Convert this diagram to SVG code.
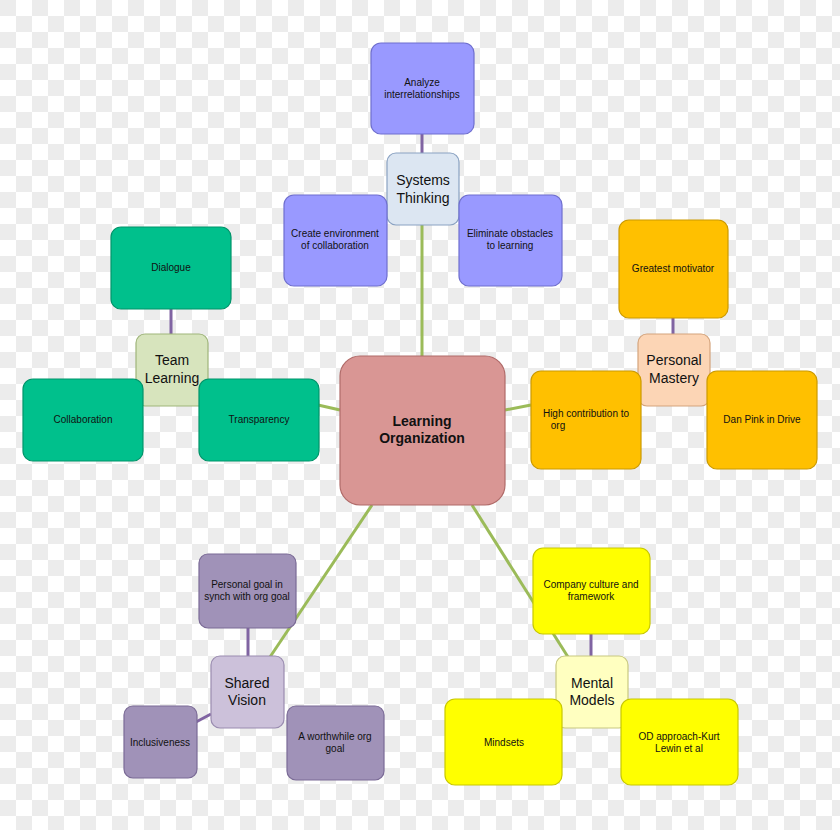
<svg xmlns="http://www.w3.org/2000/svg" width="840" height="830" viewBox="0 0 840 830">
<defs>
<pattern id="chk" width="32" height="32" patternUnits="userSpaceOnUse"><rect width="32" height="32" fill="#ffffff"/><rect width="16" height="16" fill="#ececec"/><rect x="16" y="16" width="16" height="16" fill="#ececec"/></pattern>
<style>
text{font-family:"Liberation Sans",Arial,sans-serif;text-anchor:middle;fill:#111}
.s{font-size:10px}.h{font-size:14px}.c{font-size:14px;font-weight:bold}
rect{stroke-width:1.2}
.g{stroke:#9bbb59;stroke-width:3;fill:none}
.p{stroke:#8064a2;stroke-width:3;fill:none}
</style>
</defs>
<rect width="840" height="830" fill="url(#chk)"/>
<g id="connectors">
<line class="g" x1="422" y1="356" x2="422" y2="224"/>
<line class="g" x1="340" y1="410" x2="318" y2="405"/>
<line class="g" x1="505" y1="410" x2="531" y2="405"/>
<line class="g" x1="372" y1="505" x2="270" y2="657"/>
<line class="g" x1="472" y1="505" x2="568" y2="657"/>
<line class="p" x1="422" y1="134" x2="422" y2="153"/>
<line class="p" x1="171" y1="309" x2="171" y2="334"/>
<line class="p" x1="673" y1="318" x2="673" y2="334"/>
<line class="p" x1="248" y1="628" x2="248" y2="656"/>
<line class="p" x1="196" y1="722" x2="211" y2="714"/>
<line class="p" x1="591" y1="634" x2="591" y2="656"/>
</g>
<g id="center"><rect x="340" y="356" width="165" height="149" rx="20" fill="#d99694" stroke="#b06b69"/><text class="c" x="422" y="426">Learning</text><text class="c" x="422" y="443">Organization</text></g>
<g id="systems"><rect x="387" y="153" width="72" height="72" rx="9" fill="#dce6f2" stroke="#8aa2c2"/><text class="h" x="423" y="185">Systems</text><text class="h" x="423" y="203">Thinking</text></g>
<g id="analyze"><rect x="371" y="43" width="103" height="91" rx="10" fill="#9999ff" stroke="#6f6fcf"/><text class="s" x="422" y="86">Analyze</text><text class="s" x="422" y="98">interrelationships</text></g>
<g id="createenv"><rect x="284" y="195" width="103" height="91" rx="10" fill="#9999ff" stroke="#6f6fcf"/><text class="s" x="335" y="237">Create environment</text><text class="s" x="335" y="249">of collaboration</text></g>
<g id="eliminate"><rect x="459" y="195" width="103" height="91" rx="10" fill="#9999ff" stroke="#6f6fcf"/><text class="s" x="510" y="237">Eliminate obstacles</text><text class="s" x="510" y="249">to learning</text></g>
<g id="team"><rect x="136" y="334" width="72" height="72" rx="9" fill="#d7e4bd" stroke="#9fb57a"/><text class="h" x="172" y="365">Team</text><text class="h" x="172" y="383">Learning</text></g>
<g id="dialogue"><rect x="111" y="227" width="120" height="82" rx="10" fill="#00c08c" stroke="#00946a"/><text class="s" x="171" y="271">Dialogue</text></g>
<g id="collab"><rect x="23" y="379" width="120" height="82" rx="10" fill="#00c08c" stroke="#00946a"/><text class="s" x="83" y="423">Collaboration</text></g>
<g id="transp"><rect x="199" y="379" width="120" height="82" rx="10" fill="#00c08c" stroke="#00946a"/><text class="s" x="259" y="423">Transparency</text></g>
<g id="personal"><rect x="638" y="334" width="72" height="72" rx="9" fill="#fcd5b5" stroke="#d4a47c"/><text class="h" x="674" y="365">Personal</text><text class="h" x="674" y="383">Mastery</text></g>
<g id="greatest"><rect x="619" y="220" width="109" height="98" rx="10" fill="#ffc000" stroke="#cc9a00"/><text class="s" x="673" y="272">Greatest motivator</text></g>
<g id="high"><rect x="531" y="371" width="110" height="98" rx="10" fill="#ffc000" stroke="#cc9a00"/><text class="s" x="586" y="417">High contribution to</text><text class="s" x="558" y="429">org</text></g>
<g id="danpink"><rect x="707" y="371" width="110" height="98" rx="10" fill="#ffc000" stroke="#cc9a00"/><text class="s" x="762" y="423">Dan Pink in Drive</text></g>
<g id="shared"><rect x="211" y="656" width="73" height="72" rx="9" fill="#ccc1da" stroke="#9a8cb0"/><text class="h" x="247" y="688">Shared</text><text class="h" x="247" y="705">Vision</text></g>
<g id="pgoal"><rect x="199" y="554" width="97" height="74" rx="9" fill="#a092b8" stroke="#7a6a96"/><text class="s" x="247" y="588">Personal goal in</text><text class="s" x="247" y="600">synch with org goal</text></g>
<g id="incl"><rect x="124" y="706" width="73" height="72" rx="9" fill="#a092b8" stroke="#7a6a96"/><text class="s" x="160" y="746">Inclusiveness</text></g>
<g id="worth"><rect x="287" y="706" width="97" height="74" rx="9" fill="#a092b8" stroke="#7a6a96"/><text class="s" x="335" y="740">A worthwhile org</text><text class="s" x="335" y="752">goal</text></g>
<g id="company"><rect x="533" y="548" width="117" height="86" rx="10" fill="#ffff00" stroke="#c8c800"/><text class="s" x="591" y="588">Company culture and</text><text class="s" x="591" y="600">framework</text></g>
<g id="mental"><rect x="556" y="656" width="72" height="72" rx="9" fill="#ffffc0" stroke="#c8c880"/><text class="h" x="592" y="688">Mental</text><text class="h" x="592" y="705">Models</text></g>
<g id="mindsets"><rect x="445" y="699" width="117" height="86" rx="10" fill="#ffff00" stroke="#c8c800"/><text class="s" x="504" y="746">Mindsets</text></g>
<g id="od"><rect x="621" y="699" width="117" height="86" rx="10" fill="#ffff00" stroke="#c8c800"/><text class="s" x="679" y="740">OD approach-Kurt</text><text class="s" x="679" y="752">Lewin et al</text></g>
</svg>
